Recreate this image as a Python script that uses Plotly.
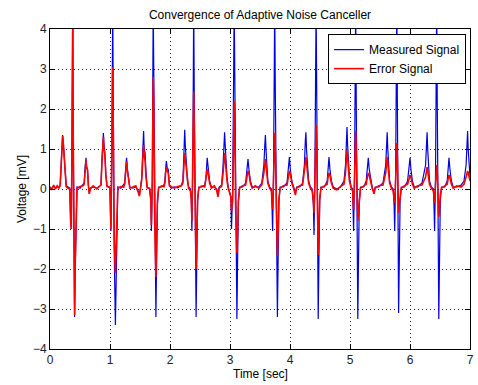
import plotly.graph_objects as go

# ---- data ----
time_s = [
    0.00, 0.03, 0.06, 0.09, 0.12, 0.15,
    0.17, 0.185, 0.20, 0.21, 0.22, 0.235, 0.25, 0.27, 0.30,
    0.33, 0.345, 0.355, 0.365, 0.375, 0.38, 0.385, 0.395, 0.41, 0.42, 0.435, 0.45, 0.50, 0.55,
    0.57, 0.585, 0.60, 0.61, 0.625, 0.64, 0.655, 0.67, 0.72, 0.78, 0.83,
    0.85, 0.865, 0.88, 0.89, 0.90, 0.915, 0.93, 0.95, 0.99,
    1.00, 1.015, 1.03, 1.045, 1.055, 1.07, 1.09, 1.10, 1.115, 1.13, 1.18, 1.23,
    1.245, 1.26, 1.276, 1.29, 1.31, 1.33, 1.38, 1.43, 1.47, 1.49, 1.51,
    1.53, 1.545, 1.56, 1.57, 1.585, 1.60, 1.62, 1.66,
    1.68, 1.69, 1.705, 1.72, 1.73, 1.745, 1.765, 1.775, 1.79, 1.81, 1.86, 1.90,
    1.915, 1.93, 1.94, 1.955, 1.97, 1.99, 2.02, 2.07, 2.13, 2.19,
    2.215, 2.23, 2.245, 2.255, 2.27, 2.29, 2.31, 2.34,
    2.355, 2.365, 2.38, 2.395, 2.405, 2.42, 2.435, 2.445, 2.46, 2.48, 2.53, 2.58,
    2.60, 2.62, 2.635, 2.66, 2.69, 2.74, 2.78, 2.80, 2.82, 2.86,
    2.885, 2.90, 2.91, 2.92, 2.935, 2.95, 2.97, 3.00,
    3.015, 3.025, 3.045, 3.07, 3.08, 3.095, 3.115, 3.125, 3.14, 3.16, 3.21, 3.26,
    3.28, 3.30, 3.315, 3.34, 3.37, 3.42, 3.48, 3.53,
    3.565, 3.58, 3.59, 3.60, 3.615, 3.63, 3.66, 3.69,
    3.70, 3.71, 3.725, 3.745, 3.755, 3.77, 3.79, 3.80, 3.815, 3.835, 3.89, 3.95,
    3.97, 3.99, 4.005, 4.03, 4.06, 4.09, 4.11, 4.16, 4.21,
    4.24, 4.255, 4.265, 4.275, 4.29, 4.31, 4.34, 4.37,
    4.39, 4.40, 4.415, 4.435, 4.445, 4.455, 4.47, 4.48, 4.495, 4.515, 4.57, 4.62,
    4.635, 4.65, 4.665, 4.69, 4.72, 4.78, 4.84, 4.90,
    4.925, 4.94, 4.95, 4.96, 4.975, 4.99, 5.02, 5.045,
    5.05, 5.06, 5.075, 5.095, 5.105, 5.115, 5.13, 5.14, 5.155, 5.175, 5.23, 5.27,
    5.29, 5.305, 5.32, 5.345, 5.37, 5.40, 5.42, 5.48, 5.55,
    5.595, 5.61, 5.62, 5.63, 5.645, 5.66, 5.69, 5.72,
    5.735, 5.745, 5.76, 5.78, 5.79, 5.80, 5.81, 5.82, 5.835, 5.855, 5.91, 5.96,
    5.985, 6.00, 6.015, 6.04, 6.07, 6.13, 6.20,
    6.26, 6.275, 6.285, 6.295, 6.31, 6.325, 6.355, 6.39,
    6.40, 6.41, 6.425, 6.445, 6.455, 6.465, 6.48, 6.49, 6.505, 6.525, 6.58, 6.62,
    6.635, 6.65, 6.665, 6.69, 6.72, 6.78, 6.85, 6.90,
    6.935, 6.95, 6.96, 6.97, 6.985, 7.00,
]

measured_mv = [
    0.05, 0.00, 0.08, 0.02, 0.06, 0.03,
    0.10, 0.70, 1.20, 1.35, 1.20, 0.80, 0.35, 0.08, 0.05,
    0.02, -0.85, -1.00, 0.80, 3.30, 4.60, 1.80, -1.40, -3.20, -2.00, -0.30, 0.05, 0.02, 0.10,
    0.15, 0.55, 0.78, 0.55, 0.50, 0.10, -0.12, 0.02, 0.05, 0.02, 0.08,
    0.10, 0.70, 1.20, 1.40, 1.10, 0.90, 0.40, 0.08, 0.03,
    0.00, -1.05, 0.50, 4.60, 2.00, -1.50, -3.40, -2.50, -0.50, 0.05, 0.02, 0.10,
    0.15, 0.50, 0.78, 0.50, 0.30, 0.05, 0.02, 0.05, -0.05, -0.15, 0.05,
    0.30, 0.90, 1.45, 1.00, 0.90, 0.40, 0.05, 0.00,
    -0.30, -1.05, 0.20, 4.60, 3.00, -1.00, -3.20, -2.00, -0.40, 0.05, 0.05, 0.10,
    0.20, 0.55, 0.70, 0.50, 0.50, 0.10, 0.02, 0.05, 0.03, 0.10,
    0.20, 0.80, 1.48, 1.10, 0.70, 0.20, 0.05, 0.00,
    -0.30, -1.05, 0.50, 4.60, 2.20, -1.20, -3.20, -2.00, -0.30, 0.05, 0.05, 0.10,
    0.30, 0.78, 0.50, 0.20, 0.05, 0.05, 0.00, -0.15, 0.05, 0.10,
    0.60, 1.10, 1.42, 1.10, 0.60, 0.30, 0.05, -0.10,
    -0.20, -1.00, 0.00, 4.60, 2.50, -1.00, -3.25, -2.00, -0.30, 0.05, 0.05, 0.15,
    0.40, 0.75, 0.50, 0.20, 0.05, 0.05, 0.05, 0.15,
    0.60, 1.10, 1.35, 1.00, 0.60, 0.20, 0.05, 0.00,
    -0.40, -1.05, 0.30, 4.60, 2.50, -1.00, -3.20, -2.00, -0.30, 0.05, 0.05, 0.15,
    0.40, 0.80, 0.50, 0.20, 0.05, -0.10, 0.05, 0.05, 0.15,
    0.60, 1.20, 1.42, 1.00, 0.60, 0.20, 0.05, 0.00,
    -0.40, -1.15, 0.30, 4.60, 2.50, -1.00, -3.25, -2.00, -0.30, 0.05, 0.05, 0.20,
    0.50, 0.80, 0.50, 0.20, 0.05, 0.00, 0.05, 0.20,
    0.60, 1.20, 1.55, 1.10, 0.70, 0.30, 0.05, 0.00,
    -0.40, -1.05, 0.30, 4.60, 2.00, -1.50, -3.25, -2.00, -0.30, 0.05, 0.05, 0.20,
    0.50, 0.78, 0.50, 0.20, 0.05, -0.10, 0.05, 0.05, 0.15,
    0.60, 1.10, 1.42, 1.00, 0.60, 0.20, 0.05, 0.00,
    -0.40, -1.05, 0.30, 4.60, 2.00, -1.50, -3.10, -2.00, -0.30, 0.05, 0.05, 0.20,
    0.50, 0.78, 0.50, 0.20, 0.05, 0.05, 0.15,
    0.60, 1.10, 1.42, 1.00, 0.60, 0.20, 0.05, 0.00,
    -0.40, -1.05, 0.30, 4.60, 2.00, -1.50, -3.25, -2.00, -0.30, 0.05, 0.05, 0.20,
    0.50, 0.78, 0.50, 0.20, 0.05, 0.05, 0.10, 0.20,
    0.60, 1.10, 1.45, 1.00, 0.60, 0.30,
]

error_mv = [
    0.05, -0.02, 0.10, 0.00, 0.08, 0.02,
    0.10, 0.70, 1.18, 1.32, 1.18, 0.78, 0.34, 0.06, 0.02,
    0.00, -0.85, -1.00, 0.80, 3.30, 4.60, 1.80, -1.40, -3.15, -1.90, -0.30, 0.02, 0.06, 0.08,
    0.12, 0.50, 0.72, 0.55, 0.48, 0.08, -0.12, 0.00, 0.08, 0.00, 0.06,
    0.10, 0.65, 1.10, 1.30, 1.00, 0.85, 0.35, 0.06, 0.05,
    0.00, -1.00, 0.50, 3.05, 1.40, -1.20, -2.10, -1.60, -0.40, 0.02, 0.06, 0.05,
    0.12, 0.45, 0.70, 0.45, 0.28, 0.02, 0.05, 0.08, -0.08, -0.18, 0.02,
    0.25, 0.70, 1.10, 0.85, 0.70, 0.30, 0.03, 0.02,
    -0.25, -0.90, 0.20, 2.80, 2.00, -0.80, -2.20, -1.50, -0.30, 0.02, 0.08, 0.06,
    0.15, 0.45, 0.55, 0.45, 0.40, 0.08, 0.05, 0.02, 0.06, 0.08,
    0.15, 0.55, 0.90, 0.75, 0.50, 0.15, 0.02, -0.05,
    -0.25, -0.80, 0.40, 2.43, 1.50, -0.90, -2.00, -1.40, -0.25, 0.02, 0.08, 0.05,
    0.25, 0.50, 0.40, 0.15, 0.02, 0.08, -0.05, -0.20, 0.02, 0.06,
    0.40, 0.70, 0.90, 0.75, 0.45, 0.20, 0.02, -0.10,
    -0.20, -0.55, -0.30, 2.20, 1.50, -0.60, -1.60, -1.20, -0.30, 0.02, 0.08, 0.10,
    0.30, 0.45, 0.40, 0.15, 0.02, 0.08, 0.02, 0.10,
    0.40, 0.60, 0.75, 0.60, 0.40, 0.15, 0.02, -0.05,
    -0.30, -0.50, 0.20, 1.40, 1.00, -0.60, -1.65, -1.20, -0.25, 0.02, 0.08, 0.10,
    0.30, 0.45, 0.40, 0.15, 0.02, -0.15, 0.02, 0.08, 0.10,
    0.40, 0.65, 0.80, 0.65, 0.40, 0.15, 0.02, -0.05,
    -0.30, -0.60, 0.20, 1.60, 1.00, -0.70, -1.65, -1.20, -0.25, 0.02, 0.08, 0.12,
    0.30, 0.40, 0.35, 0.15, 0.02, -0.02, 0.06, 0.12,
    0.40, 0.75, 0.97, 0.80, 0.50, 0.20, 0.02, -0.05,
    -0.30, -0.50, 0.20, 1.45, 0.90, -0.40, -0.80, -0.60, -0.20, 0.02, 0.08, 0.12,
    0.30, 0.40, 0.35, 0.15, 0.02, -0.12, 0.02, 0.08, 0.10,
    0.40, 0.65, 0.80, 0.65, 0.40, 0.15, 0.02, -0.05,
    -0.25, -0.35, 0.20, 1.15, 0.70, -0.30, -0.60, -0.40, -0.15, 0.02, 0.08, 0.12,
    0.25, 0.35, 0.30, 0.12, 0.02, 0.08, 0.10,
    0.30, 0.45, 0.55, 0.45, 0.30, 0.12, 0.02, -0.05,
    -0.20, -0.35, 0.10, 0.60, 0.40, -0.30, -0.70, -0.50, -0.15, 0.02, 0.08, 0.12,
    0.25, 0.35, 0.30, 0.12, 0.02, 0.08, 0.05, 0.12,
    0.30, 0.40, 0.45, 0.40, 0.30, 0.20,
]

x_ticks = [0, 1, 2, 3, 4, 5, 6, 7]
y_ticks = [-4, -3, -2, -1, 0, 1, 2, 3, 4]

FONT = "Liberation Sans, Arial, sans-serif"

fig = go.Figure()
fig.add_trace(go.Scatter(x=time_s, y=measured_mv, mode="lines", name="Measured Signal",
                         line=dict(color="#0000e6", width=1.2)))
fig.add_trace(go.Scatter(x=time_s, y=error_mv, mode="lines", name="Error Signal",
                         line=dict(color="#ff0000", width=1.6)))

axis_common = dict(
    showline=True, linecolor="black", linewidth=1, mirror="ticks",
    ticks="inside", ticklen=5, tickcolor="black", tickwidth=1,
    showgrid=True, gridcolor="#222222", gridwidth=1, griddash="1px,3px",
    zeroline=False, tickfont=dict(family=FONT, size=12, color="#222222"),
)

fig.update_layout(
    width=478, height=385,
    margin=dict(l=50, r=4, t=29, b=36),
    paper_bgcolor="white", plot_bgcolor="white",
    font=dict(family=FONT, size=12, color="black"),
    title=dict(text="Convergence of Adaptive Noise Canceller", x=0.5, xref="paper",
               y=(385 - 15) / 385, yref="container", yanchor="middle",
               font=dict(family=FONT, size=12, color="black")),
    xaxis=dict(range=[0, 7], tickvals=x_ticks, **axis_common),
    yaxis=dict(range=[-4, 4], tickvals=y_ticks, **axis_common),
    legend=dict(x=0.9906, y=0.984, xanchor="right", yanchor="top",
                bgcolor="white", bordercolor="black", borderwidth=1,
                font=dict(family=FONT, size=12, color="black"),
                tracegroupgap=0),
    showlegend=True,
    annotations=[
        dict(text="Time [sec]", xref="paper", yref="paper", x=0.5, y=0,
             yshift=-25, xanchor="center", yanchor="middle", showarrow=False,
             font=dict(family=FONT, size=12, color="black")),
        dict(text="Voltage [mV]", xref="paper", yref="paper", x=0, y=0.5,
             xshift=-28, xanchor="center", yanchor="middle", textangle=-90,
             showarrow=False, font=dict(family=FONT, size=12, color="black")),
    ],
)

fig.write_html("out.html")
